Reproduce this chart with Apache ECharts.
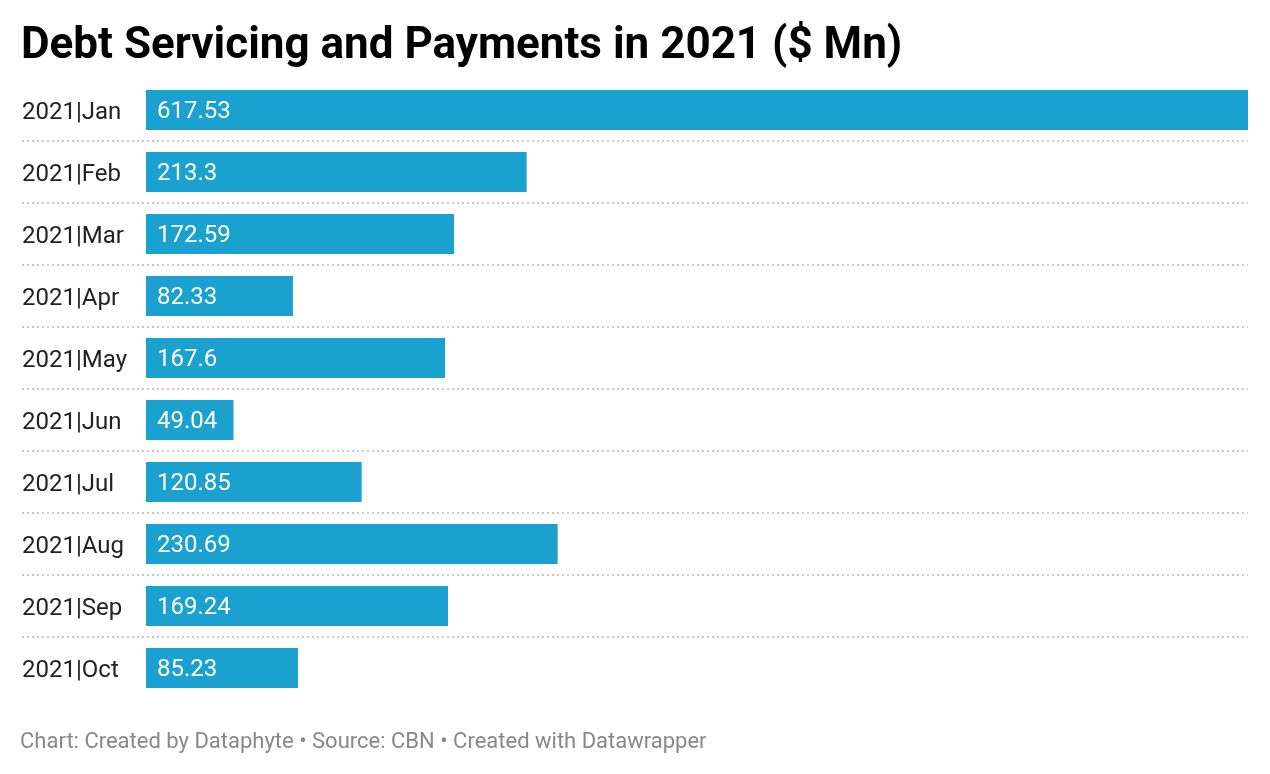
<!DOCTYPE html>
<html><head><meta charset="utf-8">
<script src="https://cdn.jsdelivr.net/npm/echarts@6/dist/echarts.min.js"></script>
<style>html,body{margin:0;padding:0;background:#fff}#c{width:1270px;height:774px}</style>
</head><body><div id="c"></div>
<script>
const categories = ['2021|Jan','2021|Feb','2021|Mar','2021|Apr','2021|May','2021|Jun','2021|Jul','2021|Aug','2021|Sep','2021|Oct'];
const values = [617.53, 213.3, 172.59, 82.33, 167.6, 49.04, 120.85, 230.69, 169.24, 85.23];
const titleText = 'Debt Servicing and Payments in 2021 ($ Mn)';
const footerText = 'Chart: Created by Dataphyte • Source: CBN • Created with Datawrapper';

const chart = echarts.init(document.getElementById('c'));
const maxV = Math.max(...values);
const gridLeft = 22, gridRight = 22, barStart = 146;
const plotW = 1270 - gridLeft - gridRight;
const minV = -maxV * (barStart - gridLeft) / (plotW - (barStart - gridLeft));
chart.setOption({
  animation: false,
  title: [{
    text: titleText, left: 21, top: 25, padding: 0,
    textStyle: {fontFamily: 'Roboto', fontSize: 44, fontWeight: 'bold', color: '#000'}
  }, {
    text: footerText, left: 20, top: 731, padding: 0,
    textStyle: {fontFamily: 'Roboto', fontSize: 22, fontWeight: 'normal', color: '#888'}
  }],
  grid: {left: gridLeft, right: gridRight, top: 79, height: 620},
  xAxis: {type: 'value', min: minV, max: maxV, show: false},
  yAxis: {
    type: 'category', data: categories, inverse: true,
    axisLine: {show: false}, axisTick: {show: false},
    axisLabel: {inside: true, margin: 0, formatter: '{a|{value}}',
      rich: {a: {fontFamily: 'Roboto', fontSize: 24, color: '#222', padding: [5, 0, 0, 0]}}},
    splitLine: {show: true, showMinLine: false, showMaxLine: false,
      lineStyle: {type: [2, 3], color: '#c8c8c8', width: 2}}
  },
  series: [{
    type: 'bar', data: values, barWidth: 40,
    itemStyle: {color: '#1aa1cf'},
    label: {show: true, position: 'insideLeft', offset: [6, 2], color: '#fff',
      fontFamily: 'Roboto', fontSize: 24}
  }]
});
</script></body></html>
